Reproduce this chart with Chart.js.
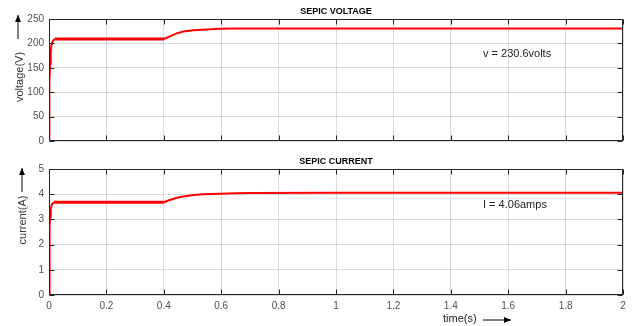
<!DOCTYPE html>
<html>
<head>
<meta charset="utf-8">
<script src="https://cdn.jsdelivr.net/npm/chart.js@4"></script>
<style>
body { margin: 0; background: #fff; width: 632px; height: 326px; overflow: hidden; position: relative; }
.caja { position: absolute; left: 0; width: 632px; }
</style>
</head>
<body>
<div class="caja" style="top:0;height:152px"><canvas id="grafVoltaje"></canvas></div>
<div class="caja" style="top:152px;height:174px"><canvas id="grafCorriente"></canvas></div>
<script>
const tiempoVoltaje = [0, 0.0005, 0.002, 0.004, 0.006, 0.008, 0.011, 0.014, 0.02, 0.1, 0.2, 0.3, 0.4, 0.41, 0.425, 0.445, 0.468, 0.503, 0.549, 0.596, 0.65, 0.7, 1.0, 1.5, 2.0];
const voltaje = [0, 88, 120, 158, 180, 195, 202, 205, 209, 209, 209, 209, 209, 211.5, 215.5, 220.5, 224.5, 227, 228.6, 230, 230.4, 230.6, 230.6, 230.6, 230.6];

const tiempoCorriente = [0, 0.001, 0.002, 0.003, 0.004, 0.006, 0.01, 0.017, 0.1, 0.2, 0.3, 0.4, 0.421, 0.445, 0.468, 0.503, 0.538, 0.596, 0.65, 0.7, 1.0, 1.5, 2.0];
const corriente = [0, 1.55, 2.0, 2.75, 3.1, 3.4, 3.6, 3.68, 3.68, 3.68, 3.68, 3.68, 3.77, 3.86, 3.91, 3.97, 4.0, 4.02, 4.04, 4.05, 4.06, 4.06, 4.06];

const ticksTiempo = [0, 0.2, 0.4, 0.6, 0.8, 1, 1.2, 1.4, 1.6, 1.8, 2];
const ticksVoltaje = [0, 50, 100, 150, 200, 250];
const ticksCorriente = [0, 1, 2, 3, 4, 5];

const fuente = '"Liberation Sans", Arial, sans-serif';

function flecha(ctx, x1, y1, x2, y2) {
    ctx.beginPath();
    ctx.moveTo(x1, y1);
    ctx.lineTo(x2, y2);
    ctx.stroke();
    const ang = Math.atan2(y2 - y1, x2 - x1);
    ctx.beginPath();
    ctx.moveTo(x2, y2);
    ctx.lineTo(x2 - 7 * Math.cos(ang) + 3 * Math.sin(ang), y2 - 7 * Math.sin(ang) - 3 * Math.cos(ang));
    ctx.lineTo(x2 - 7 * Math.cos(ang) - 3 * Math.sin(ang), y2 - 7 * Math.sin(ang) + 3 * Math.cos(ang));
    ctx.closePath();
    ctx.fill();
}

// marco estilo matlab: borde, marcas hacia adentro y textos
const marco = {
    id: 'marco',
    afterDraw(chart, args, opts) {
        const { ctx, chartArea: a, scales } = chart;
        const l = Math.round(a.left) + 0.5, r = Math.round(a.right) - 0.5;
        const t = Math.round(a.top) + 0.5, b = Math.round(a.bottom) - 0.5;
        ctx.save();
        ctx.strokeStyle = '#262626';
        ctx.lineWidth = 1;
        ctx.strokeRect(l, t, r - l, b - t);
        ctx.beginPath();
        scales.x.ticks.forEach(tk => {
            const px = Math.round(scales.x.getPixelForValue(tk.value)) + 0.5;
            ctx.moveTo(px, t); ctx.lineTo(px, t + 5);
            ctx.moveTo(px, b); ctx.lineTo(px, b - 5);
        });
        scales.y.ticks.forEach(tk => {
            const py = Math.round(scales.y.getPixelForValue(tk.value)) + 0.5;
            ctx.moveTo(l, py); ctx.lineTo(l + 5, py);
            ctx.moveTo(r, py); ctx.lineTo(r - 5, py);
        });
        ctx.stroke();

        ctx.fillStyle = '#000';
        ctx.font = 'bold 9px ' + fuente;
        ctx.textAlign = 'center';
        ctx.textBaseline = 'middle';
        ctx.fillText(opts.titulo, (a.left + a.right) / 2, a.top - 7);

        ctx.fillStyle = '#333';
        ctx.font = '11px ' + fuente;
        ctx.save();
        ctx.translate(opts.etiquetaX, opts.etiquetaY);
        ctx.rotate(-Math.PI / 2);
        ctx.fillText(opts.etiqueta, 0, 0);
        ctx.restore();

        ctx.strokeStyle = '#000';
        ctx.fillStyle = '#000';
        flecha(ctx, opts.flechaX, opts.flechaY + 24, opts.flechaX, opts.flechaY);

        ctx.fillStyle = '#222';
        ctx.textAlign = 'left';
        ctx.font = '11px ' + fuente;
        ctx.fillText(opts.nota, opts.notaX, opts.notaY);

        if (opts.ejeX) {
            ctx.fillStyle = '#222';
            ctx.fillText('time(s)', 443, opts.ejeXY);
            ctx.fillStyle = '#000';
            flecha(ctx, 483, opts.ejeXY + 1, 511, opts.ejeXY + 1);
        }
        ctx.restore();
    }
};

function crearGrafico(id, tiempos, valores, ticksY, mostrarX, padding, opcionesMarco) {
    const puntos = tiempos.map((t, i) => ({ x: t, y: valores[i] }));
    return new Chart(document.getElementById(id), {
        type: 'line',
        data: {
            datasets: [{
                data: puntos,
                borderColor: '#ff0000',
                borderWidth: 2,
                pointRadius: 0,
                tension: 0,
                segment: {
                    borderWidth: c => (c.p0.parsed.x >= 0.015 && c.p1.parsed.x <= 0.4) ? 3 : 2
                }
            }]
        },
        options: {
            responsive: true,
            maintainAspectRatio: false,
            animation: false,
            layout: { padding: padding },
            plugins: { legend: { display: false }, tooltip: { enabled: false }, marco: opcionesMarco },
            scales: {
                x: {
                    type: 'linear',
                    min: 0,
                    max: 2,
                    afterBuildTicks: s => { s.ticks = ticksTiempo.map(v => ({ value: v })); },
                    afterFit: s => { s.height = mostrarX ? 16 : 0; },
                    ticks: { display: mostrarX, color: '#505050', font: { size: 10, family: fuente }, padding: 5, maxRotation: 0, callback: v => String(v) },
                    grid: { color: 'rgba(0,0,0,0.14)', drawTicks: false },
                    border: { display: false }
                },
                y: {
                    min: ticksY[0],
                    max: ticksY[ticksY.length - 1],
                    afterBuildTicks: s => { s.ticks = ticksY.map(v => ({ value: v })); },
                    afterFit: s => { s.width = 49; },
                    ticks: { color: '#505050', font: { size: 10, family: fuente }, padding: 5, callback: v => String(v) },
                    grid: { color: 'rgba(0,0,0,0.14)', drawTicks: false },
                    border: { display: false }
                }
            }
        },
        plugins: [marco]
    });
}

crearGrafico('grafVoltaje', tiempoVoltaje, voltaje, ticksVoltaje, false,
    { top: 19, right: 9, bottom: 7, left: 0 },
    { titulo: 'SEPIC VOLTAGE', etiqueta: 'voltage(V)', etiquetaX: 20, etiquetaY: 77, flechaX: 18, flechaY: 15,
      nota: 'v = 230.6volts', notaX: 483, notaY: 54, ejeX: false });

crearGrafico('grafCorriente', tiempoCorriente, corriente, ticksCorriente, true,
    { top: 17, right: 9, bottom: 15, left: 0 },
    { titulo: 'SEPIC CURRENT', etiqueta: 'current(A)', etiquetaX: 23, etiquetaY: 68, flechaX: 22, flechaY: 16,
      nota: 'I = 4.06amps', notaX: 483, notaY: 53, ejeX: true, ejeXY: 167 });
</script>
</body>
</html>
